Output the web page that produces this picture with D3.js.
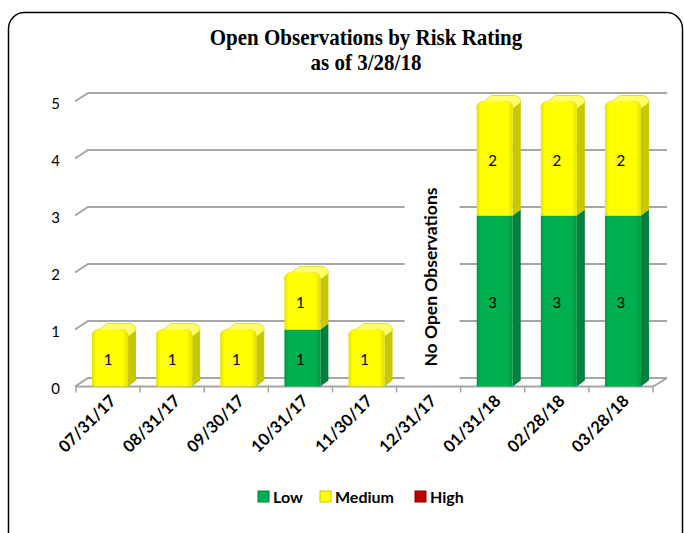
<!DOCTYPE html>
<html>
<head>
<meta charset="utf-8">
<script src="https://cdn.jsdelivr.net/npm/d3@7"></script>
<style>
  body { margin: 0; background: #fff; }
  svg { display: block; }
</style>
</head>
<body>
<div class="chart"></div>
<script>
var categories = ["07/31/17", "08/31/17", "09/30/17", "10/31/17", "11/30/17", "12/31/17", "01/31/18", "02/28/18", "03/28/18"];
var low    = [0, 0, 0, 1, 0, 0, 3, 3, 3];
var medium = [1, 1, 1, 1, 1, 0, 2, 2, 2];
var high   = [0, 0, 0, 0, 0, 0, 0, 0, 0];
var seriesNames = ["Low", "Medium", "High"];
var yTicks = [0, 1, 2, 3, 4, 5];
var emptyNote = "No Open Observations";

var width = 684, height = 533;

var colors = {
  Low:    { front: "#00b050", edge: "#009844", side: "#00803a", top: "#2bc46a" },
  Medium: { front: "#ffff00", edge: "#e2e200", side: "#c8c800", top: "#ffff66" },
  High:   { front: "#c00000", edge: "#a80000", side: "#8a0000", top: "#d83030" }
};

// 3d depth of the floor/walls and of the bars
var depthX = 13, depthY = -8.5;
var barDX = 8, barDY = -6;

var data = categories.map(function (c, i) {
  return { cat: c, Low: low[i], Medium: medium[i], High: high[i] };
});

var x = d3.scaleBand()
  .domain(categories)
  .range([76, 653]);

var y = d3.scaleLinear()
  .domain([0, 5])
  .range([386.5, 101.5]);

var barW = 36;
var labelFont = "Lato, 'Open Sans', sans-serif";

var svg = d3.select(".chart").append("svg")
    .attr("width", width)
    .attr("height", height);

var defs = svg.append("defs");
seriesNames.forEach(function (k) {
  var g = defs.append("linearGradient").attr("id", "grad-" + k)
    .attr("x1", "0").attr("x2", "1").attr("y1", "0").attr("y2", "0");
  g.append("stop").attr("offset", "0%").attr("stop-color", colors[k].edge);
  g.append("stop").attr("offset", "12%").attr("stop-color", colors[k].front);
  g.append("stop").attr("offset", "85%").attr("stop-color", colors[k].front);
  g.append("stop").attr("offset", "100%").attr("stop-color", colors[k].edge);
});

// outer rounded frame
svg.append("rect")
  .attr("x", 8.5).attr("y", 12.5)
  .attr("width", 674).attr("height", 560)
  .attr("rx", 16)
  .attr("fill", "#fff")
  .attr("stroke", "#000")
  .attr("stroke-width", 1.5);

// title
var title = svg.append("text")
  .attr("text-anchor", "middle")
  .attr("transform", "translate(366,0) scale(1,1.07)")
  .style("font-family", "'Liberation Serif', 'Times New Roman', serif")
  .style("font-weight", "bold")
  .style("font-size", "21px");
title.append("tspan").attr("x", 0).attr("y", 45 / 1.07).text("Open Observations by Risk Rating");
title.append("tspan").attr("x", 0).attr("y", 70 / 1.07).text("as of 3/28/18");

// gridlines (back wall) with the left wall diagonal
var x0 = x.range()[0] - 1, x1 = x.range()[1];
svg.append("g").selectAll("path")
  .data(yTicks)
  .enter().append("path")
    .attr("d", function (d) {
      var yf = y(d);
      return "M" + (x0) + "," + yf + "L" + (x0 + depthX) + "," + (yf + depthY) +
             "L" + (x1 + depthX + 1) + "," + (yf + depthY);
    })
    .attr("fill", "none")
    .attr("stroke", "#a6a6a6")
    .attr("stroke-width", 2);

// floor right edge and front edge
svg.append("path")
  .attr("d", "M" + x0 + "," + y(0) + "L" + x1 + "," + y(0) + "L" + (x1 + depthX + 1) + "," + (y(0) + depthY))
  .attr("fill", "none")
  .attr("stroke", "#a6a6a6")
  .attr("stroke-width", 2);

// x ticks
svg.append("g").selectAll("line")
  .data(categories.concat(["end"]))
  .enter().append("line")
    .attr("x1", function (d, i) { return x.range()[0] + i * x.step(); })
    .attr("x2", function (d, i) { return x.range()[0] + i * x.step(); })
    .attr("y1", y(0))
    .attr("y2", y(0) + 6)
    .attr("stroke", "#a6a6a6")
    .attr("stroke-width", 1.5);

// white box behind the note for the empty month
var noteX = x("12/31/17") + x.bandwidth() / 2 + 2;
svg.append("rect")
  .attr("x", noteX - 26).attr("y", y(3.4))
  .attr("width", 55).attr("height", y(0.1) - y(3.4))
  .attr("fill", "#fff");
svg.append("text")
  .attr("transform", "translate(" + (noteX + 6) + "," + y(1.92) + ") rotate(-90)")
  .attr("text-anchor", "middle")
  .style("font-family", labelFont)
  .style("font-weight", "bold")
  .style("font-size", "17.5px")
  .text(emptyNote);

// y axis labels
svg.append("g").selectAll("text")
  .data(yTicks)
  .enter().append("text")
    .attr("x", 60)
    .attr("y", function (d) { return y(d) + 2; })
    .attr("dy", "0.35em")
    .attr("text-anchor", "end")
    .style("font-family", labelFont)
    .style("font-size", "15px")
    .text(function (d) { return d; });

// stacked 3d bars
var stack = d3.stack().keys(seriesNames);
var layers = stack(data);

function barLeft(d) { return x(d.data.cat) + x.bandwidth() / 2 - barW / 2 + 2; }

var segs = [];
layers.forEach(function (layer) {
  layer.forEach(function (d) {
    if (d[1] - d[0] > 0) segs.push({ key: layer.key, d: d });
  });
});

// top segment of each bar gets the rounded cap
var topIndex = {};
segs.forEach(function (s, i) { topIndex[s.d.data.cat] = i; });

var bars = svg.append("g");
segs.forEach(function (s, i) {
  var c = colors[s.key];
  var l = barLeft(s.d), r = l + barW;
  var yb = y(s.d[0]), yt = y(s.d[1]);
  var isTop = topIndex[s.d.data.cat] === i;
  var rr = isTop ? 7 : 0;

  // side face
  bars.append("path")
    .attr("d", "M" + r + "," + yb + "L" + (r + barDX) + "," + (yb + barDY) +
               "L" + (r + barDX) + "," + (yt + barDY + rr) + "L" + r + "," + (yt + rr) + "Z")
    .attr("fill", c.side);

  if (isTop) {
    // top cap
    bars.append("path")
      .attr("d", "M" + (l) + "," + (yt + rr) +
                 "Q" + l + "," + yt + " " + (l + rr) + "," + yt +
                 "L" + (l + barDX + rr) + "," + (yt + barDY) +
                 "L" + (r + barDX - rr) + "," + (yt + barDY) +
                 "Q" + (r + barDX) + "," + (yt + barDY) + " " + (r + barDX) + "," + (yt + barDY + rr) +
                 "L" + r + "," + (yt + rr) +
                 "Q" + r + "," + yt + " " + (r - rr) + "," + yt + "Z")
      .attr("fill", c.top)
      .attr("stroke", c.side)
      .attr("stroke-width", 0.6);
  }

  // front face
  bars.append("path")
    .attr("d", "M" + l + "," + yb + "L" + l + "," + (yt + rr) +
               (isTop ? "Q" + l + "," + yt + " " + (l + rr) + "," + yt + "L" + (r - rr) + "," + yt +
                        "Q" + r + "," + yt + " " + r + "," + (yt + rr) : "L" + r + "," + yt) +
               "L" + r + "," + yb + "Z")
    .attr("fill", "url(#grad-" + s.key + ")");

  bars.append("text")
    .attr("x", l + barW / 2 - 2)
    .attr("y", (yb + yt) / 2 + 2)
    .attr("dy", "0.35em")
    .attr("text-anchor", "middle")
    .style("font-family", labelFont)
    .style("font-size", "15px")
    .text(s.d[1] - s.d[0]);
});

// x labels
svg.append("g").selectAll("text")
  .data(categories)
  .enter().append("text")
    .attr("transform", function (d) {
      return "translate(" + (x(d) + x.bandwidth() / 2 + 9) + "," + 402 + ") rotate(-45)";
    })
    .attr("text-anchor", "end")
    .style("font-family", labelFont)
    .style("font-weight", "bold")
    .style("font-size", "16.5px")
    .text(function (d) { return d; });

// legend
var legendX = [258, 320, 415];
var legend = svg.append("g").selectAll("g")
  .data(seriesNames)
  .enter().append("g")
    .attr("transform", function (d, i) { return "translate(" + legendX[i] + ",491)"; });
legend.append("rect")
  .attr("width", 11).attr("height", 11)
  .attr("fill", function (d) { return colors[d].front; })
  .attr("stroke", function (d) { return colors[d].side; })
  .attr("stroke-width", 1);
legend.append("text")
  .attr("x", 15)
  .attr("y", 6)
  .attr("dy", "0.35em")
  .style("font-family", labelFont)
  .style("font-weight", "bold")
  .style("font-size", "16px")
  .text(function (d) { return d; });
</script>
</body>
</html>
